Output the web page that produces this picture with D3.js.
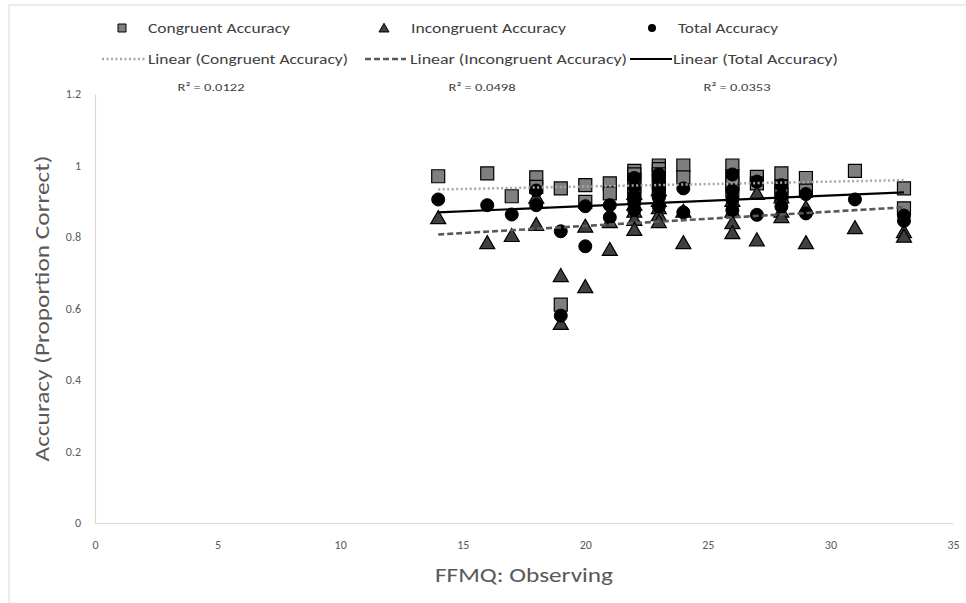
<!DOCTYPE html>
<html>
<head>
<meta charset="utf-8">
<script src="https://cdn.jsdelivr.net/npm/d3@7"></script>
<style>
  html, body { margin: 0; padding: 0; background: #fff; }
  svg { display: block; }
</style>
</head>
<body>
<svg id="chart" width="966" height="603"></svg>
<script>
// ---------------- data ----------------
const observing = [14, 16, 17, 18, 18, 19, 19, 20, 20, 21, 21,
  22, 22, 22, 22, 22, 23, 23, 23, 23, 23, 24, 24,
  26, 26, 26, 26, 27, 27, 28, 28, 28, 29, 29, 31, 33, 33];
const congruentAccuracy = [0.970, 0.978, 0.914, 0.967, 0.940, 0.936, 0.611, 0.945, 0.898, 0.950, 0.922,
  0.985, 0.975, 0.960, 0.940, 0.920, 1.000, 0.990, 0.975, 0.955, 0.930, 1.000, 0.967,
  1.000, 0.970, 0.950, 0.930, 0.968, 0.950, 0.978, 0.940, 0.920, 0.965, 0.930, 0.985, 0.936, 0.880];
const incongruentAccuracy = [0.852, 0.782, 0.802, 0.833, 0.909, 0.690, 0.556, 0.659, 0.828, 0.763, 0.841,
  0.920, 0.890, 0.870, 0.847, 0.819, 0.930, 0.900, 0.880, 0.860, 0.841, 0.870, 0.782,
  0.900, 0.870, 0.838, 0.810, 0.920, 0.790, 0.910, 0.870, 0.855, 0.880, 0.782, 0.824, 0.813, 0.800];
const totalAccuracy = [0.905, 0.889, 0.863, 0.889, 0.930, 0.816, 0.580, 0.774, 0.886, 0.855, 0.889,
  0.965, 0.940, 0.915, 0.895, 0.875, 0.975, 0.955, 0.935, 0.910, 0.885, 0.936, 0.869,
  0.975, 0.930, 0.905, 0.875, 0.955, 0.862, 0.945, 0.915, 0.885, 0.920, 0.866, 0.905, 0.860, 0.845];

// linear trendline end points (x range of the data)
const trendX = [14, 33];
const congruentTrend = [0.933, 0.959];
const incongruentTrend = [0.807, 0.883];
const totalTrend = [0.869, 0.925];
const rSquaredLabels = ["R² = 0.0122", "R² = 0.0498", "R² = 0.0353"];

const xTicks = [0, 5, 10, 15, 20, 25, 30, 35];
const yTicks = [0, 0.2, 0.4, 0.6, 0.8, 1, 1.2];
const xTitle = "FFMQ: Observing";
const yTitle = "Accuracy (Proportion Correct)";
const legendMarkerLabels = ["Congruent Accuracy", "Incongruent Accuracy", "Total Accuracy"];
const legendLineLabels = ["Linear (Congruent Accuracy)", "Linear (Incongruent Accuracy)", "Linear (Total Accuracy)"];

// ---------------- drawing ----------------
const FONT = "Carlito, 'Liberation Sans Narrow', 'Arial Narrow', 'Liberation Sans', sans-serif";
const svg = d3.select("#chart");

// outer frame (partial, as in the reference)
svg.append("line").attr("x1", 9).attr("x2", 966).attr("y1", 5).attr("y2", 5)
  .attr("stroke", "#d9d9d9").attr("stroke-width", 1);
svg.append("line").attr("x1", 9).attr("x2", 9).attr("y1", 5).attr("y2", 603)
  .attr("stroke", "#d9d9d9").attr("stroke-width", 1);

const x = d3.scaleLinear().domain([0, 35]).range([95, 953]);
const y = d3.scaleLinear().domain([0, 1.2]).range([523, 94]);

// axes
const xAxis = d3.axisBottom(x).tickValues(xTicks).tickSize(0).tickPadding(17).tickFormat(d3.format("d"));
const yAxis = d3.axisLeft(y).tickValues(yTicks).tickSize(0).tickPadding(14).tickFormat(d => d === 0 ? "0" : d === 1 ? "1" : d3.format(".1f")(d));

const gx = svg.append("g").attr("transform", `translate(0,${y(0)})`).call(xAxis);
const gy = svg.append("g").attr("transform", `translate(${x(0)},0)`).call(yAxis);
[gx, gy].forEach(g => {
  g.select(".domain").attr("stroke", "#d9d9d9").attr("stroke-width", 1.2);
  g.selectAll("text").attr("fill", "#595959").attr("font-family", FONT).attr("font-size", 12);
});

// axis titles
svg.append("text").attr("x", (x(0) + x(35)) / 2).attr("y", 582)
  .attr("text-anchor", "middle").attr("fill", "#595959")
  .attr("font-family", FONT).attr("font-size", 20)
  .attr("textLength", 178).attr("lengthAdjust", "spacingAndGlyphs")
  .text(xTitle);
svg.append("text")
  .attr("transform", `translate(49,${(y(0) + y(1.2)) / 2 + 0}) rotate(-90)`)
  .attr("text-anchor", "middle").attr("fill", "#595959")
  .attr("font-family", FONT).attr("font-size", 20)
  .attr("textLength", 306).attr("lengthAdjust", "spacingAndGlyphs")
  .text(yTitle);

// marker shapes
const sq = 13, tri = 15, rad = 6.5;
function squarePath(cx, cy, s) {
  return `M${cx - s / 2},${cy - s / 2}h${s}v${s}h${-s}Z`;
}
function trianglePath(cx, cy, s) {
  const h = s * 0.87;
  return `M${cx},${cy - h * 0.6}L${cx + s / 2},${cy + h * 0.4}L${cx - s / 2},${cy + h * 0.4}Z`;
}

const pts = observing.map((o, i) => ({ o, c: congruentAccuracy[i], inc: incongruentAccuracy[i], t: totalAccuracy[i] }));

const plot = svg.append("g");
plot.selectAll("path.cong").data(pts).join("path").attr("class", "cong")
  .attr("d", d => squarePath(x(d.o), y(d.c), sq))
  .attr("fill", "#7f7f7f").attr("stroke", "#000").attr("stroke-width", 1.2);
plot.selectAll("path.inc").data(pts).join("path").attr("class", "inc")
  .attr("d", d => trianglePath(x(d.o), y(d.inc), tri))
  .attr("fill", "#404040").attr("stroke", "#000").attr("stroke-width", 1.2);
plot.selectAll("circle.tot").data(pts).join("circle").attr("class", "tot")
  .attr("cx", d => x(d.o)).attr("cy", d => y(d.t)).attr("r", rad)
  .attr("fill", "#000").attr("stroke", "#000").attr("stroke-width", 1);

// trendlines
const trendStyles = [
  { vals: congruentTrend, color: "#a6a6a6", dash: "2,2.5", width: 2.5, cap: "butt" },
  { vals: incongruentTrend, color: "#595959", dash: "6,3", width: 2.6, cap: "butt" },
  { vals: totalTrend, color: "#000", dash: null, width: 2.2, cap: "butt" }
];
const lineGen = d3.line().x(d => x(d[0])).y(d => y(d[1]));
trendStyles.forEach(s => {
  plot.append("path")
    .attr("d", lineGen(trendX.map((tx, i) => [tx, s.vals[i]])))
    .attr("fill", "none").attr("stroke", s.color).attr("stroke-width", s.width)
    .attr("stroke-dasharray", s.dash).attr("stroke-linecap", s.cap);
});

// R² labels
const r2x = [211, 482, 737];
rSquaredLabels.forEach((t, i) => {
  svg.append("text").attr("x", r2x[i]).attr("y", 91).attr("text-anchor", "middle")
    .attr("fill", "#404040").attr("font-family", FONT).attr("font-size", 11)
    .attr("textLength", 67).attr("lengthAdjust", "spacingAndGlyphs").text(t);
});

// legend row 1 (markers)
const leg1 = [
  { mx: 122, tx: 148, w: 142, shape: "sq" },
  { mx: 384, tx: 411, w: 155, shape: "tri" },
  { mx: 652, tx: 678, w: 100, shape: "circ" }
];
const legY1 = 28;
leg1.forEach((l, i) => {
  if (l.shape === "sq") {
    svg.append("path").attr("d", squarePath(l.mx, legY1, 8)).attr("fill", "#7f7f7f").attr("stroke", "#000").attr("stroke-width", 1);
  } else if (l.shape === "tri") {
    svg.append("path").attr("d", trianglePath(l.mx, legY1 + 0.5, 10)).attr("fill", "#404040").attr("stroke", "#000").attr("stroke-width", 1);
  } else {
    svg.append("circle").attr("cx", l.mx).attr("cy", legY1).attr("r", 4).attr("fill", "#000");
  }
  svg.append("text").attr("x", l.tx).attr("y", legY1 + 5).attr("fill", "#404040")
    .attr("font-family", FONT).attr("font-size", 15)
    .attr("textLength", l.w).attr("lengthAdjust", "spacingAndGlyphs")
    .text(legendMarkerLabels[i]);
});

// legend row 2 (trendlines)
const leg2 = [
  { x1: 102, x2: 146, tx: 148, w: 200 },
  { x1: 365, x2: 406, tx: 410, w: 217 },
  { x1: 630, x2: 672, tx: 673, w: 165 }
];
const legY2 = 59;
leg2.forEach((l, i) => {
  const s = trendStyles[i];
  svg.append("line").attr("x1", l.x1).attr("x2", l.x2).attr("y1", legY2).attr("y2", legY2)
    .attr("stroke", s.color).attr("stroke-width", s.width).attr("stroke-dasharray", s.dash);
  svg.append("text").attr("x", l.tx).attr("y", legY2 + 5).attr("fill", "#404040")
    .attr("font-family", FONT).attr("font-size", 15)
    .attr("textLength", l.w).attr("lengthAdjust", "spacingAndGlyphs")
    .text(legendLineLabels[i]);
});
</script>
</body>
</html>
